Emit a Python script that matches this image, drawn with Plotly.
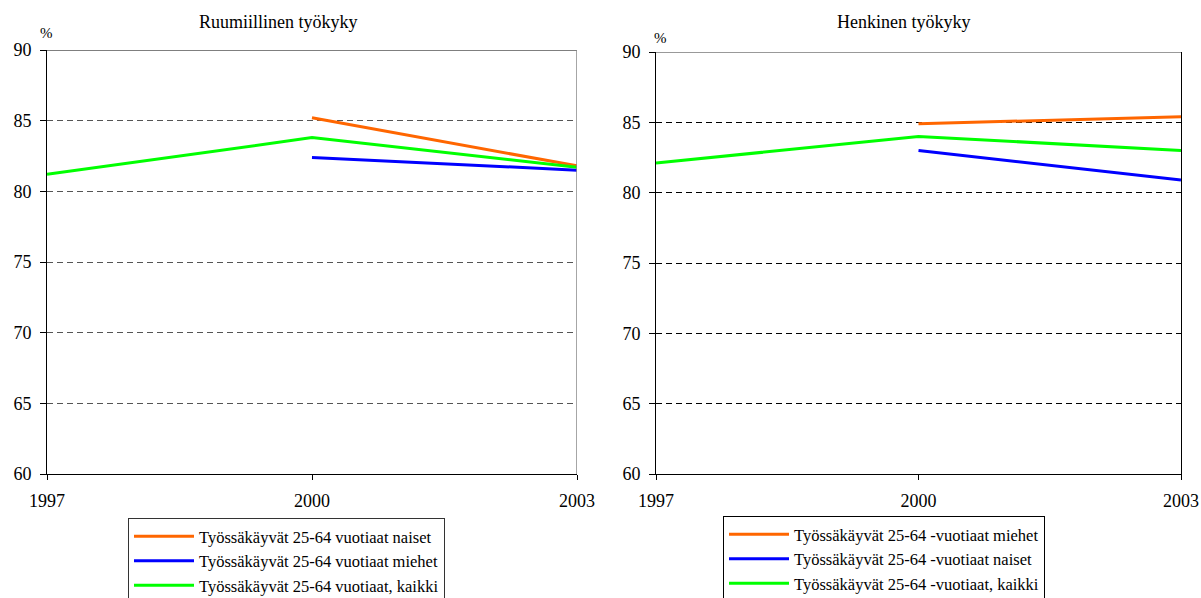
import plotly.graph_objects as go

years = [1997, 2000, 2003]
left_naiset = [None, 85.2, 81.8]
left_miehet = [None, 82.4, 81.5]
left_kaikki = [81.2, 83.8, 81.7]
right_miehet = [None, 84.9, 85.4]
right_naiset = [None, 83.0, 80.9]
right_kaikki = [82.1, 84.0, 83.0]

left_title = "Ruumiillinen työkyky"
right_title = "Henkinen työkyky"
left_names = ["Työssäkäyvät 25-64 vuotiaat naiset", "Työssäkäyvät 25-64 vuotiaat miehet",
              "Työssäkäyvät 25-64 vuotiaat, kaikki"]
right_names = ["Työssäkäyvät 25-64 -vuotiaat miehet", "Työssäkäyvät 25-64 -vuotiaat naiset",
               "Työssäkäyvät 25-64 -vuotiaat, kaikki"]
yticks = [60, 65, 70, 75, 80, 85, 90]

ORANGE = "#FF6600"
BLUE = "#0000FF"
GREEN = "#00FF00"
FONT = "Liberation Serif, Times New Roman, serif"
W, H = 1201, 598

fig = go.Figure()
for vals, name, col in zip([left_naiset, left_miehet, left_kaikki], left_names, [ORANGE, BLUE, GREEN]):
    fig.add_trace(go.Scatter(x=years, y=vals, name=name, mode="lines",
                             line=dict(color=col, width=3), xaxis="x", yaxis="y", legend="legend"))
for vals, name, col in zip([right_miehet, right_naiset, right_kaikki], right_names, [ORANGE, BLUE, GREEN]):
    fig.add_trace(go.Scatter(x=years, y=vals, name=name, mode="lines",
                             line=dict(color=col, width=3), xaxis="x2", yaxis="y2", legend="legend2"))

def px(x): return x / W
def py(y): return 1 - y / H

common_x = dict(range=[1997, 2003], tickvals=years, showgrid=False, showline=True, linecolor="black",
                linewidth=1, ticks="outside", ticklen=5, tickcolor="black", zeroline=False,
                automargin=False,
                tickfont=dict(family=FONT, size=18, color="black"), ticklabelstandoff=5)
common_y = dict(range=[60, 90], tickvals=yticks, showline=True, linecolor="black", linewidth=1,
                ticks="outside", ticklen=6, tickcolor="black", zeroline=False, griddash="6px,4px",
                automargin=False,
                gridwidth=1, tickfont=dict(family=FONT, size=18, color="black"), ticklabelstandoff=5)

fig.update_layout(
    template="none",
    font=dict(family=FONT, color="black"),
    width=W, height=H, margin=dict(l=0, r=0, t=0, b=0, pad=0, autoexpand=False), autosize=False,
    paper_bgcolor="white", plot_bgcolor="white",
    xaxis=dict(domain=[px(47), px(577)], anchor="y", **common_x),
    yaxis=dict(domain=[py(474), py(50)], anchor="x", gridcolor="#555555", **common_y),
    xaxis2=dict(domain=[px(656), px(1181)], anchor="y2", **common_x),
    yaxis2=dict(domain=[py(474), py(52)], anchor="x2", gridcolor="black", mirror=True, **common_y),
    legend=dict(x=px(128), y=py(518), xanchor="left", yanchor="top", bordercolor="#333333",
                borderwidth=1, bgcolor="white", font=dict(family=FONT, size=16.5, color="black"),
                tracegroupgap=0, itemwidth=60),
    legend2=dict(x=px(723), y=py(516), xanchor="left", yanchor="top", bordercolor="black",
                 borderwidth=1, bgcolor="white", font=dict(family=FONT, size=16.5, color="black"),
                 tracegroupgap=0, itemwidth=60),
    annotations=[
        dict(text=left_title, x=px(278), y=py(22), xref="paper", yref="paper", showarrow=False,
             xanchor="center", yanchor="middle", font=dict(family=FONT, size=18, color="black")),
        dict(text=right_title, x=px(903), y=py(22), xref="paper", yref="paper", showarrow=False,
             xanchor="center", yanchor="middle", font=dict(family=FONT, size=18, color="black")),
        dict(text="%", x=px(46), y=py(33), xref="paper", yref="paper", showarrow=False,
             xanchor="center", yanchor="middle", font=dict(family=FONT, size=15, color="black")),
        dict(text="%", x=px(660), y=py(38), xref="paper", yref="paper", showarrow=False,
             xanchor="center", yanchor="middle", font=dict(family=FONT, size=15, color="black")),
    ],
    shapes=[
        dict(type="line", xref="x", yref="y", x0=1997, x1=2003, y0=90, y1=90, line=dict(color="black", width=1)),
        dict(type="line", xref="x", yref="y", x0=2003, x1=2003, y0=60, y1=90, line=dict(color="#888888", width=1.5)),
        dict(type="line", xref="x2", yref="y2", x0=1997, x1=2003, y0=90, y1=90, line=dict(color="#777777", width=1.5)),
    ],
)

fig.write_html("out.html")
